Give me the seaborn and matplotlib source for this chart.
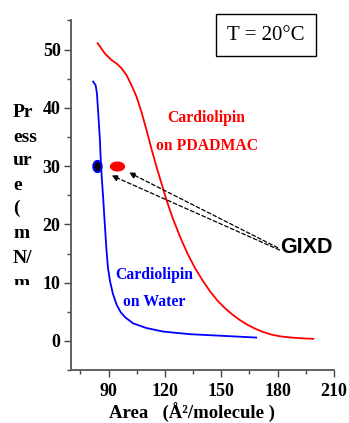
import numpy as np
import pandas as pd
import matplotlib
matplotlib.use('Agg')
import matplotlib.pyplot as plt
from matplotlib.patches import Rectangle
from matplotlib.path import Path
import seaborn as sns

# isotherm: cardiolipin on water
water_area = [81.8, 83.1, 83.8, 84.5, 85.4, 85.9, 86.6, 87.2, 87.7, 88.2, 88.9, 89.7,
              90.8, 92.3, 94.3, 96.5, 99.0, 103.1, 110.2, 119.0, 133.2, 150.9, 168.6]
water_pressure = [44.5, 43.9, 42.5, 39.1, 34.5, 30.5, 27.0, 24.2, 21.5, 19.0, 15.5, 12.5,
                  10.2, 8.1, 6.2, 4.9, 4.0, 3.0, 2.2, 1.6, 1.15, 0.86, 0.57]

# isotherm: cardiolipin on PDADMAC
pdadmac_area = [84.2, 88.1, 91.6, 94.3, 96.9, 99.6, 102.2, 104.9, 107.5, 110.2, 112.8,
                115.5, 118.2, 120.8, 124.0, 128.0, 132.0, 136.0, 140.0, 144.0, 148.0,
                152.0, 156.0, 160.0, 164.0, 168.0, 172.0, 177.0, 182.0, 188.0, 194.0,
                199.0]
pdadmac_pressure = [51.1, 49.3, 48.2, 47.6, 46.8, 45.6, 43.9, 41.9, 39.3, 36.2, 33.0,
                    29.9, 27.0, 24.2, 21.2, 17.9, 15.0, 12.5, 10.4, 8.5, 6.9,
                    5.6, 4.5, 3.55, 2.75, 2.1, 1.55, 1.05, 0.75, 0.55, 0.42,
                    0.35]

# GIXD measurement points
gixd_area = [83.6, 94.5]
gixd_pressure = [30.0, 30.0]
arrow_tips = [(100.9, 28.9), (91.6, 28.4)]
arrow_tails = [(180.0, 16.0), (181.0, 15.6)]

xticks = [90, 120, 150, 180, 210]
yticks = [0, 10, 20, 30, 40, 50]
ylabel_parts = ['Pr', 'ess', 'ur', 'e', '(', 'm', 'N/', 'm']

serif = 'Liberation Serif'

water = pd.DataFrame({'area': water_area, 'pressure': water_pressure})
pdadmac = pd.DataFrame({'area': pdadmac_area, 'pressure': pdadmac_pressure})

fig = plt.figure(figsize=(3.49, 4.23), dpi=100)
ax = fig.add_axes([71 / 349, 1 - 370 / 423, 263 / 349, 349.5 / 423])

sns.lineplot(data=water, x='area', y='pressure', sort=False, color='#0000ff', lw=1.3, ax=ax)
sns.lineplot(data=pdadmac, x='area', y='pressure', sort=False, color='#ff0000', lw=1.3, ax=ax)

t = np.linspace(0, 2 * np.pi, 40)
tall = Path(np.column_stack([0.75 * np.cos(t), np.sin(t)]))
wide = Path(np.column_stack([1.6 * np.cos(t), np.sin(t)]))
ax.plot(gixd_area[0], gixd_pressure[0], marker=tall, ms=8, mfc='black', mec='#0000ff',
        mew=1.5, ls='none')
ax.plot(gixd_area[1], gixd_pressure[1], marker=wide, ms=10, mfc='#ff0000', mec='#ff0000',
        ls='none')

for tip, tail in zip(arrow_tips, arrow_tails):
    ax.annotate('', xy=tip, xytext=tail,
                arrowprops=dict(arrowstyle='-|>', color='black', lw=0.9, ls=(0, (3, 2)),
                                mutation_scale=9, shrinkA=0, shrinkB=0))

ax.text(181.3, 16, 'GIXD', fontfamily='Liberation Sans', fontweight='bold', fontsize=15.5,
        va='center', ha='left')
ax.text(142.2, 38.2, 'Cardiolipin', color='#ff0000', fontfamily=serif, fontweight='bold',
        fontsize=11.3, ha='center', va='center')
ax.text(142.2, 33.5, 'on PDADMAC', color='#ff0000', fontfamily=serif, fontweight='bold',
        fontsize=11.3, ha='center', va='center')
ax.text(114.1, 11.3, 'Cardiolipin', color='#0000ff', fontfamily=serif, fontweight='bold',
        fontsize=11.3, ha='center', va='center')
ax.text(114.1, 6.6, 'on Water', color='#0000ff', fontfamily=serif, fontweight='bold',
        fontsize=11.3, ha='center', va='center')

ax.set_xlim(70, 210)
ax.set_ylim(-5, 55)
ax.set_xticks(xticks)
ax.set_yticks(yticks)
ax.set_xticks(np.arange(75, 210, 30), minor=True)
ax.set_yticks(np.arange(-5, 56, 10), minor=True)
for lab in ax.get_xticklabels() + ax.get_yticklabels():
    lab.set_fontfamily(serif)
    lab.set_fontweight('bold')
    lab.set_fontsize(13)
ax.tick_params(which='major', length=5, width=1, color='#444444', pad=2.5)
ax.tick_params(which='minor', length=3, width=1, color='#444444')
ax.tick_params(axis='x', which='major', pad=4.5)
for s in ['top', 'right']:
    ax.spines[s].set_visible(False)
for s in ['left', 'bottom']:
    ax.spines[s].set_color('#555555')
    ax.spines[s].set_linewidth(1.3)
ax.set_xlabel('')
ax.set_ylabel('')

fig.text(192 / 349, 1 - 418.5 / 423, 'Area   (Å²/molecule )', fontfamily=serif,
         fontweight='bold', fontsize=13.5, ha='center', va='baseline')

baselines = [117, 142, 165, 190, 213, 238, 263, 288]
clip = Rectangle((0, 1 - 285 / 423), 0.2, 285 / 423, transform=fig.transFigure)
for part, yb in zip(ylabel_parts, baselines):
    txt = fig.text(13 / 349, 1 - yb / 423, part, fontfamily=serif, fontweight='bold',
                   fontsize=14, ha='left', va='baseline')
    txt.set_clip_path(clip)

fig.text(266 / 349, 1 - 35 / 423, 'T = 20°C', fontfamily=serif, fontsize=15,
         ha='center', va='center',
         bbox=dict(boxstyle='square,pad=0.55', fc='white', ec='black', lw=1))

fig.savefig('out.png', dpi=100)
